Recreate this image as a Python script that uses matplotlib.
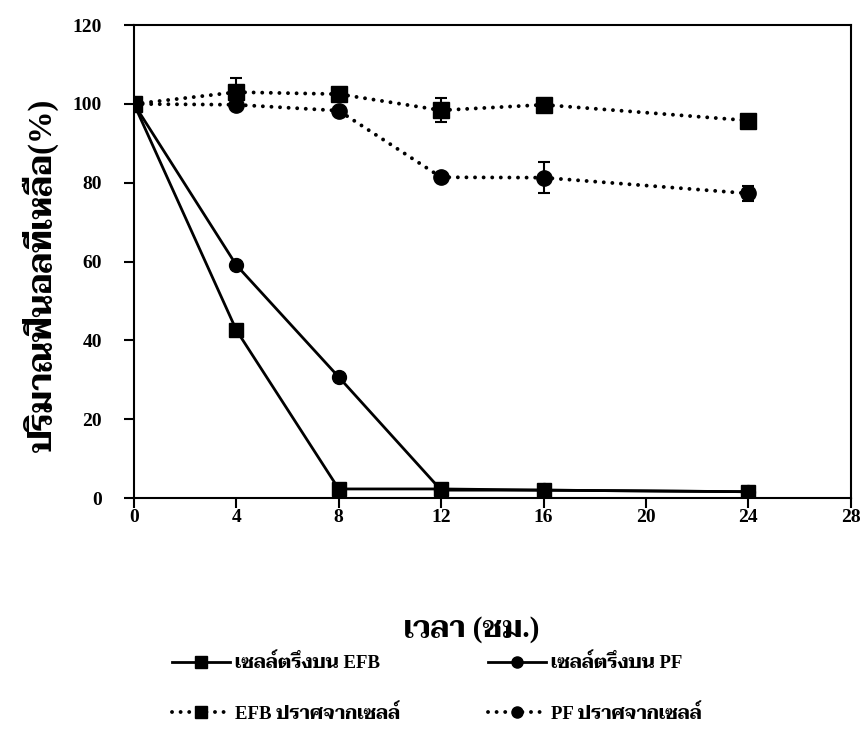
from matplotlib import pyplot as plt
from matplotlib.lines import Line2D

plt.rcParams['font.family'] = ['Liberation Serif', 'Taviraj', 'Noto Serif Thai', 'Sarabun', 'Athiti', 'DejaVu Sans']
plt.rcParams['font.weight'] = 'bold'

hours = [0, 4, 8, 12, 16, 24]
efbCells = [100, 42.6, 2.3, 2.3, 2.0, 1.6]
pfCells = [100, 59.1, 30.7, 2.0, 2.0, 1.6]
efbFree = [100, 103.0, 102.5, 98.4, 99.8, 95.8]
efbFreeErr = [0, 3.5, 1.0, 3.1, 1.0, 0.5]
pfFree = [100, 99.8, 98.3, 81.4, 81.3, 77.3]
pfFreeErr = [0, 0.5, 0.5, 0.5, 4.0, 1.8]

labels = ['เซลล์ตรึงบน EFB', 'เซลล์ตรึงบน PF', 'EFB ปราศจากเซลล์', 'PF ปราศจากเซลล์']

fig = plt.figure(figsize=(8.61, 7.40), dpi=100)
ax = fig.add_axes([0.1556, 0.327, 0.8324, 0.639])

dots = dict(linestyle=(0, (0.01, 2.2)), linewidth=2.8, dash_capstyle='round')

ax.plot(hours, efbCells, '-', color='black', lw=2, marker='s', ms=10)
ax.plot(hours, pfCells, '-', color='black', lw=2, marker='o', ms=10)
ax.errorbar(hours, efbFree, yerr=efbFreeErr, color='black', marker='s', ms=11,
            capsize=4, elinewidth=1.5, capthick=1.5, **dots)
ax.errorbar(hours, pfFree, yerr=pfFreeErr, color='black', marker='o', ms=11,
            capsize=4, elinewidth=1.5, capthick=1.5, **dots)

ax.set_xlim(0, 28)
ax.set_ylim(0, 120)
ax.set_xticks(range(0, 29, 4))
ax.set_yticks(range(0, 121, 20))
ax.tick_params(direction='out', length=7, width=1.5, labelsize=14)
ax.tick_params(axis='y', pad=16)
ax.tick_params(axis='x', pad=1)
for s in ax.spines.values():
    s.set_linewidth(1.5)

ax.set_ylabel('ปริมาณฟีนอลที่เหลือ(%)', fontsize=23.5, fontweight='bold')
ax.yaxis.set_label_coords(-0.105, 0.471)
ax.set_xlabel('เวลา (ชม.)', fontsize=21, fontweight='bold')
ax.xaxis.set_label_coords(0.471, -0.25)

# legend proxies without error bars
p1 = Line2D([], [], color='black', lw=2, marker='s', ms=8)
p2 = Line2D([], [], color='black', lw=2, marker='o', ms=8)
p3 = Line2D([], [], color='black', marker='s', ms=8, **dots)
p4 = Line2D([], [], color='black', marker='o', ms=8, **dots)

fig.legend([p1, p3, p2, p4], [labels[0], labels[2], labels[1], labels[3]],
           ncol=2, loc='upper left', bbox_to_anchor=(172 / 861, 0.117), frameon=False,
           borderpad=0, borderaxespad=0,
           fontsize=13.5, handlelength=3.1, columnspacing=4.7, labelspacing=1.7,
           handletextpad=0.25)

plt.savefig('out.png', dpi=100)
